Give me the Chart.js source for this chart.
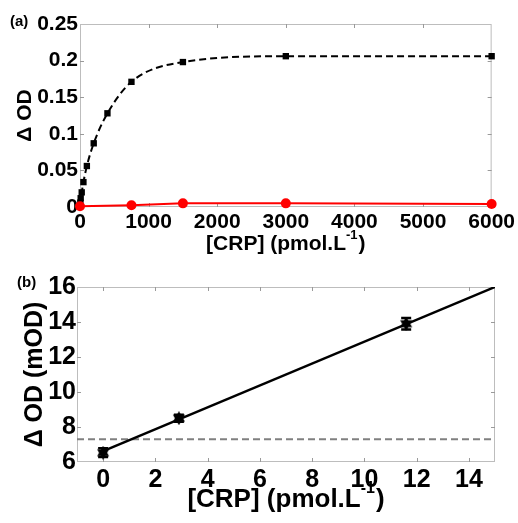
<!DOCTYPE html>
<html>
<head>
<meta charset="utf-8">
<script src="https://cdn.jsdelivr.net/npm/chart.js@4.4.1/dist/chart.umd.min.js"></script>
<style>
	html, body { margin: 0; padding: 0; background: #fff; }
	body { width: 518px; height: 523px; position: relative; overflow: hidden; }
	canvas { position: absolute; left: 0; }
	#chartA { top: 0; }
	#chartB { top: 268px; }
</style>
</head>
<body>
<canvas id="chartA" width="518" height="262"></canvas>
<canvas id="chartB" width="518" height="255"></canvas>
<script>
// (a) full range response
var crpA       = [ 0, 5, 10, 25, 50, 100, 200, 400, 750, 1500, 3000, 6000 ];
var odSample   = [ 0.002, 0.006, 0.012, 0.02, 0.034, 0.056, 0.087, 0.128, 0.171, 0.198, 0.206, 0.206 ];
var crpCtrl    = [ 0, 750, 1500, 3000, 6000 ];
var odCtrl     = [ 0.001, 0.0025, 0.005, 0.005, 0.004 ];
var xTicksA    = [ 0, 1000, 2000, 3000, 4000, 5000, 6000 ];
var yTicksA    = [ 0, 0.05, 0.1, 0.15, 0.2, 0.25 ];
var yLabelsA   = [ '0', '0.05', '0.1', '0.15', '0.2', '0.25' ];

// (b) low range calibration
var crpB       = [ 0, 2.9, 11.6 ];
var odB        = [ 6.53, 8.5, 13.9 ];
var errB       = [ 0.25, 0.2, 0.33 ];
var fitX       = [ 0, 15 ];
var fitY       = [ 6.62, 16.0 ];
var lodX       = [ -1, 15 ];
var lodY       = [ 7.3, 7.3 ];
var xTicksB    = [ 0, 2, 4, 6, 8, 10, 12, 14 ];
var yTicksB    = [ 6, 8, 10, 12, 14, 16 ];

var FONT = 'Arial, "Liberation Sans", Helvetica, sans-serif';

function pts( xs, ys ) {
	return xs.map( function( x, i ) { return { x: x, y: ys[i] }; } );
}

/* ═══ FRAME + TITLES PLUGIN ═══ */

var framePlugin = {
	id: 'frame',
	beforeDatasetsDraw: function( chart ) {
		var ctx = chart.ctx, a = chart.chartArea;
		var sx = chart.scales.x, sy = chart.scales.y;
		ctx.save();
		ctx.strokeStyle = '#bdbdbd';
		ctx.lineWidth = 1;
		ctx.strokeRect( a.left + 0.5, a.top + 0.5, a.right - a.left - 1, a.bottom - a.top - 1 );
		ctx.strokeStyle = '#9a9a9a';
		ctx.beginPath();
		sx.ticks.forEach( function( t ) {
			var p = Math.round( sx.getPixelForValue( t.value ) ) + 0.5;
			if ( p <= a.left + 1 || p >= a.right - 1 ) return;
			ctx.moveTo( p, a.bottom ); ctx.lineTo( p, a.bottom - 4 );
			ctx.moveTo( p, a.top );    ctx.lineTo( p, a.top + 4 );
		});
		sy.ticks.forEach( function( t ) {
			var p = Math.round( sy.getPixelForValue( t.value ) ) + 0.5;
			if ( p <= a.top + 1 || p >= a.bottom - 1 ) return;
			ctx.moveTo( a.left, p );  ctx.lineTo( a.left + 4, p );
			ctx.moveTo( a.right, p ); ctx.lineTo( a.right - 4, p );
		});
		ctx.stroke();
		ctx.restore();
	},
	afterDraw: function( chart, args, o ) {
		var ctx = chart.ctx, a = chart.chartArea;
		ctx.save();
		ctx.fillStyle = '#000';
		ctx.textBaseline = 'middle';

		// x title with superscript
		var big = 'bold ' + o.xSize + 'px ' + FONT;
		var sml = 'bold ' + Math.round( o.xSize * 0.6 ) + 'px ' + FONT;
		ctx.font = big;
		var w1 = ctx.measureText( '[CRP] (pmol.L' ).width;
		var w3 = ctx.measureText( ')' ).width;
		ctx.font = sml;
		var w2 = ctx.measureText( '-1' ).width + 1;
		var x0 = ( a.left + a.right ) / 2 - ( w1 + w2 + w3 ) / 2;
		ctx.textAlign = 'left';
		ctx.font = big;
		ctx.fillText( '[CRP] (pmol.L', x0, o.xTitleY );
		ctx.fillText( ')', x0 + w1 + w2, o.xTitleY );
		ctx.font = sml;
		ctx.fillText( '-1', x0 + w1, o.xTitleY - o.xSize * 0.42 );

		// y title
		ctx.save();
		ctx.translate( o.yTitleX, ( a.top + a.bottom ) / 2 );
		ctx.rotate( -Math.PI / 2 );
		ctx.textAlign = 'center';
		ctx.font = 'bold ' + o.ySize + 'px ' + FONT;
		ctx.fillText( o.yTitle, 0, 0 );
		ctx.restore();

		// panel tag
		ctx.textAlign = 'left';
		ctx.font = 'bold 15px ' + FONT;
		ctx.fillText( o.panel, o.panelX, o.panelY );
		ctx.restore();
	}
};

/* ═══ ERROR BARS PLUGIN ═══ */

var errorBarPlugin = {
	id: 'errorBars',
	afterDatasetsDraw: function( chart ) {
		var ds = chart.data.datasets;
		var ctx = chart.ctx;
		var sx = chart.scales.x, sy = chart.scales.y;
		ctx.save();
		ctx.strokeStyle = '#000';
		ctx.lineWidth = 2.5;
		ds.forEach( function( d ) {
			if ( ! d.errors ) return;
			d.data.forEach( function( p, i ) {
				var x  = sx.getPixelForValue( p.x );
				var y1 = sy.getPixelForValue( p.y - d.errors[i] );
				var y2 = sy.getPixelForValue( p.y + d.errors[i] );
				ctx.beginPath();
				ctx.moveTo( x, y1 ); ctx.lineTo( x, y2 );
				ctx.moveTo( x - 5, y1 ); ctx.lineTo( x + 5, y1 );
				ctx.moveTo( x - 5, y2 ); ctx.lineTo( x + 5, y2 );
				ctx.stroke();
			});
		});
		ctx.restore();
	}
};

function hexagram( size ) {
	var c = document.createElement( 'canvas' );
	c.width = c.height = size;
	var g = c.getContext( '2d' );
	var r = size / 2;
	g.fillStyle = '#000';
	[ -Math.PI / 2, Math.PI / 2 ].forEach( function( start ) {
		g.beginPath();
		for ( var k = 0; k < 3; k++ ) {
			var ang = start + k * 2 * Math.PI / 3;
			var px = r + r * Math.cos( ang ), py = r + r * Math.sin( ang );
			if ( k === 0 ) g.moveTo( px, py ); else g.lineTo( px, py );
		}
		g.closePath();
		g.fill();
	});
	return c;
}

function tickFont( size ) {
	return { family: FONT, weight: 'bold', size: size };
}

function axis( min, max, values, labels, size, fit, pad ) {
	return {
		type: 'linear',
		min: min,
		max: max,
		afterBuildTicks: function( s ) {
			s.ticks = values.map( function( v ) { return { value: v }; } );
		},
		afterFit: fit,
		grid: { display: false, drawTicks: false },
		border: { display: false },
		ticks: {
			font: tickFont( size ),
			color: '#000',
			padding: pad,
			maxRotation: 0,
			autoSkip: false,
			callback: function( v, i ) {
				return labels ? labels[i] : String( v );
			}
		}
	};
}

/* ═══ CHART (a) ═══ */

new Chart( document.getElementById( 'chartA' ).getContext( '2d' ), {
	type: 'line',
	data: {
		datasets: [
			{
				data: pts( crpCtrl, odCtrl ),
				borderColor: '#ff0000',
				backgroundColor: '#ff0000',
				borderWidth: 2,
				pointRadius: 5,
				pointStyle: 'circle',
				pointBorderWidth: 0,
				clip: false
			},
			{
				data: pts( crpA, odSample ),
				borderColor: '#000',
				backgroundColor: '#000',
				borderWidth: 2,
				borderDash: [ 7, 4 ],
				cubicInterpolationMode: 'monotone',
				pointRadius: 4.5,
				pointStyle: 'rect',
				pointBorderWidth: 0,
				clip: false
			}
		]
	},
	options: {
		responsive: false,
		animation: false,
		events: [],
		layout: { padding: { top: 24, right: 25, left: 0, bottom: 0 } },
		plugins: {
			legend: { display: false },
			tooltip: { enabled: false },
			frame: {
				xSize: 21, xTitleY: 244,
				yTitle: 'Δ OD', ySize: 21, yTitleX: 25,
				panel: '(a)', panelX: 10, panelY: 22
			}
		},
		scales: {
			x: axis( 0, 6000, xTicksA, null, 21, function( s ) { s.height = 55; }, 3 ),
			y: axis( 0, 0.25, yTicksA, yLabelsA, 21, function( s ) { s.width = 80; }, 2 )
		}
	},
	plugins: [ framePlugin ]
});

/* ═══ CHART (b) ═══ */

new Chart( document.getElementById( 'chartB' ).getContext( '2d' ), {
	type: 'line',
	data: {
		datasets: [
			{
				data: pts( crpB, odB ),
				errors: errB,
				showLine: false,
				pointStyle: hexagram( 14 ),
				pointRadius: 7
			},
			{
				data: pts( fitX, fitY ),
				borderColor: '#000',
				borderWidth: 2.5,
				pointRadius: 0
			},
			{
				data: pts( lodX, lodY ),
				borderColor: '#808080',
				borderWidth: 2,
				borderDash: [ 7, 4 ],
				pointRadius: 0
			}
		]
	},
	options: {
		responsive: false,
		animation: false,
		events: [],
		layout: { padding: { top: 19, right: 23, left: 0, bottom: 0 } },
		plugins: {
			legend: { display: false },
			tooltip: { enabled: false },
			frame: {
				xSize: 26, xTitleY: 232,
				yTitle: 'Δ OD (mOD)', ySize: 25, yTitleX: 35,
				panel: '(b)', panelX: 17, panelY: 15
			}
		},
		scales: {
			x: axis( -1, 15, xTicksB, null, 25, function( s ) { s.height = 61; }, 3 ),
			y: axis( 6, 16, yTicksB, null, 25, function( s ) { s.width = 77; }, 1 )
		}
	},
	plugins: [ framePlugin, errorBarPlugin ]
});
</script>
</body>
</html>
